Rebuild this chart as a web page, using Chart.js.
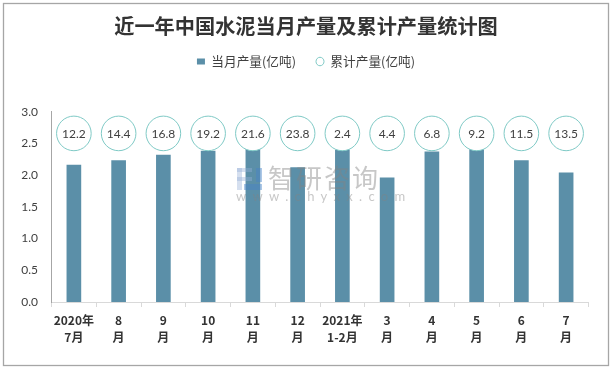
<!DOCTYPE html>
<html>
<head>
<meta charset="utf-8">
<style>
  html, body { margin: 0; padding: 0; background: #fff; }
  canvas { display: block; }
</style>
<script src="https://cdn.jsdelivr.net/npm/chart.js@4"></script>
</head>
<body>
<canvas id="chart" width="612" height="369"></canvas>
<script>
const chartTitle = '近一年中国水泥当月产量及累计产量统计图';
const categories = [
  ['2020年', '7月'], ['8', '月'], ['9', '月'], ['10', '月'], ['11', '月'], ['12', '月'],
  ['2021年', '1-2月'], ['3', '月'], ['4', '月'], ['5', '月'], ['6', '月'], ['7', '月']
];
const monthlyOutput = [2.16, 2.23, 2.32, 2.38, 2.42, 2.12, 2.40, 1.96, 2.37, 2.42, 2.23, 2.04];
const cumulativeOutput = [12.2, 14.4, 16.8, 19.2, 21.6, 23.8, 2.4, 4.4, 6.8, 9.2, 11.5, 13.5];
// the circles sit in one row, the number inside is the real value
const circleRow = 2.66;

const cjk = '"Noto Sans CJK SC", "Noto Sans", sans-serif';
const num = 'Lato, "Noto Sans", sans-serif';

const frame = {
  id: 'frame',
  beforeDraw(chart) {
    const c = chart.ctx;
    c.save();
    c.fillStyle = '#fff';
    c.fillRect(0, 0, chart.width, chart.height);
    c.strokeStyle = '#a6a6a6';
    c.lineWidth = 1.3;
    c.strokeRect(3.5, 3.5, 605, 362);
    c.restore();
  }
};

const circleText = {
  id: 'circleText',
  afterDatasetsDraw(chart) {
    const c = chart.ctx;
    const pts = chart.getDatasetMeta(1).data;
    c.save();
    c.font = '12px ' + num;
    c.fillStyle = '#404040';
    c.textAlign = 'center';
    c.textBaseline = 'middle';
    pts.forEach((p, i) => c.fillText(cumulativeOutput[i].toFixed(1), p.x, p.y + 1));
    c.restore();
  }
};

const watermark = {
  id: 'watermark',
  afterDatasetsDraw(chart) {
    const c = chart.ctx;
    c.save();
    c.fillStyle = 'rgba(150,175,215,0.4)';
    c.fillRect(237, 168, 15, 4);
    c.fillRect(237, 168, 5, 22);
    c.fillRect(237, 177, 15, 4);
    c.fillStyle = 'rgba(70,130,200,0.45)';
    c.fillRect(256, 168, 6, 14);
    c.fillRect(244, 184, 18, 6);
    c.fillStyle = 'rgba(130,130,130,0.45)';
    c.font = '26px ' + cjk;
    c.textBaseline = 'middle';
    c.letterSpacing = '2px';
    c.fillText('智研咨询', 268, 178);
    c.fillStyle = 'rgba(130,130,130,0.45)';
    c.font = '13px ' + num;
    c.letterSpacing = '6.3px';
    c.fillText('www.chyxx.com', 236, 197);
    c.restore();
  }
};

new Chart(document.getElementById('chart'), {
  data: {
    labels: categories,
    datasets: [
      {
        type: 'bar',
        label: '当月产量(亿吨)',
        data: monthlyOutput,
        backgroundColor: '#5b8fa8',
        borderWidth: 0,
        barThickness: 14,
        pointStyle: 'rect',
        order: 1
      },
      {
        type: 'line',
        label: '累计产量(亿吨)',
        data: cumulativeOutput.map(() => circleRow),
        showLine: false,
        backgroundColor: '#fff',
        borderColor: '#7fcac6',
        borderWidth: 2,
        pointBorderWidth: 1,
        pointRadius: 17.3,
        pointStyle: 'circle',
        clip: false,
        order: 0
      }
    ]
  },
  options: {
    responsive: false,
    animation: false,
    layout: { padding: 0 },
    plugins: {
      tooltip: { enabled: false },
      title: {
        display: true,
        text: chartTitle,
        color: '#333',
        font: { family: cjk, size: 20.2, weight: 'bold', lineHeight: 0.85 },
        padding: { top: 18, bottom: 0 }
      },
      legend: {
        display: true,
        position: 'top',
        labels: {
          usePointStyle: true,
          boxHeight: 6,
          pointStyleWidth: 8,
          padding: 20,
          color: '#404040',
          font: { family: cjk, size: 12.7 },
          sort: (a, b) => a.datasetIndex - b.datasetIndex
        }
      }
    },
    scales: {
      x: {
        grid: { drawOnChartArea: false, drawTicks: true, tickLength: 5, color: '#d9d9d9' },
        border: { color: '#d9d9d9' },
        offset: true,
        ticks: {
          color: '#333',
          font: { family: cjk, size: 12, weight: 'bold', lineHeight: 1.4 },
          maxRotation: 0,
          autoSkip: false,
          padding: 5
        },
        afterFit(s) { s.height = 67; }
      },
      y: {
        min: 0,
        max: 3,
        grid: { display: false },
        border: { color: '#a6a6a6' },
        ticks: {
          stepSize: 0.5,
          color: '#404040',
          font: { family: num, size: 12 },
          padding: 5.5,
          callback: v => v.toFixed(1)
        },
        afterFit(s) { s.width = 51.5; }
      },
      // these two only keep the gaps above and right of the plot
      gapTop: {
        type: 'category',
        axis: 'x',
        position: 'top',
        ticks: { display: false },
        grid: { display: false },
        border: { display: false },
        afterFit(s) { s.height = 34; }
      },
      gapRight: {
        type: 'linear',
        axis: 'y',
        position: 'right',
        ticks: { display: false },
        grid: { display: false },
        border: { display: false },
        afterFit(s) { s.width = 23.5; }
      }
    }
  },
  plugins: [frame, circleText, watermark]
});
</script>
</body>
</html>
